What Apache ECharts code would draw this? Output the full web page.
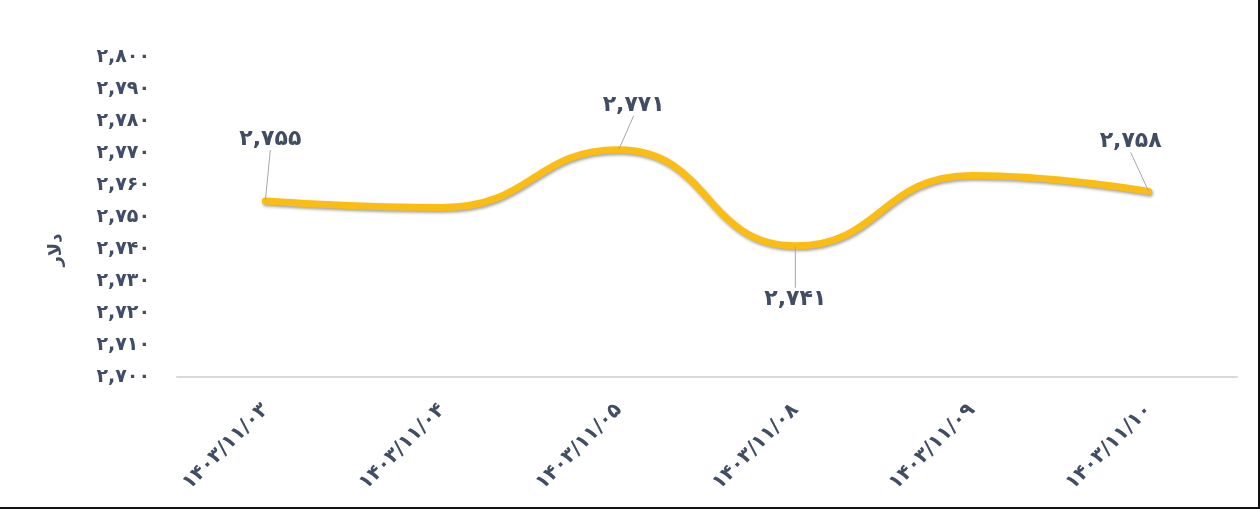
<!DOCTYPE html>
<html>
<head>
<meta charset="utf-8">
<script src="https://cdn.jsdelivr.net/npm/echarts@6/dist/echarts.min.js"></script>
<style>
  html, body { margin: 0; padding: 0; background: #fff; }
  .frame {
    width: 1260px;
    height: 509px;
    box-sizing: border-box;
    border-right: 2px solid #111;
    border-bottom: 2px solid #111;
  }
  #chart { width: 1258px; height: 507px; }
</style>
</head>
<body>
<div class="frame"><div id="chart"></div></div>
<script>
  // داده‌ها
  const categories = ['۱۴۰۳/۱۱/۰۳', '۱۴۰۳/۱۱/۰۴', '۱۴۰۳/۱۱/۰۵', '۱۴۰۳/۱۱/۰۸', '۱۴۰۳/۱۱/۰۹', '۱۴۰۳/۱۱/۱۰']
  const prices = [2755, 2753, 2771, 2741, 2763, 2758]
  const labelled = [0, 2, 3, 5]
  const yAxisName = 'دلار'

  // label offsets from point (dx, dy)
  const labelShift = {
    0: [5, -62],
    2: [15, -45],
    3: [0, 53],
    5: [-18, -50]
  }

  const textColor = '#404d62'
  const fontFamily = '"DejaVu Sans", "Noto Sans", sans-serif'

  function toFa(v) {
    const s = Number(v).toLocaleString('en-US')
    return s.replace(/[0-9]/g, d => '۰۱۲۳۴۵۶۷۸۹'[+d])
  }

  const chart = echarts.init(document.getElementById('chart'))

  chart.setOption({
    animation: false,
    grid: {
      left: 177,
      right: 21,
      top: 57,
      bottom: 130,
      containLabel: false,
      outerBoundsMode: 'none'
    },
    xAxis: {
      type: 'category',
      data: categories,
      axisLine: { lineStyle: { color: '#d9d9d9', width: 2 } },
      axisTick: { show: false },
      axisLabel: {
        interval: 0,
        rotate: 45,
        margin: 30,
        color: textColor,
        fontFamily: fontFamily,
        fontWeight: 'bold',
        fontSize: 20
      }
    },
    yAxis: {
      type: 'value',
      min: 2700,
      max: 2800,
      interval: 10,
      name: yAxisName,
      nameLocation: 'middle',
      nameGap: 112,
      nameRotate: 90,
      nameTextStyle: {
        color: textColor,
        fontFamily: fontFamily,
        fontWeight: 'bold',
        fontSize: 18,
        padding: [0, 66, 0, 0]
      },
      axisLine: { show: false },
      axisTick: { show: false },
      splitLine: { show: false },
      axisLabel: {
        margin: 27,
        color: textColor,
        fontFamily: fontFamily,
        fontWeight: 'bold',
        fontSize: 19,
        formatter: v => toFa(v)
      }
    },
    series: [{
      type: 'line',
      data: prices.map((v, i) => ({
        value: v,
        label: { show: labelled.includes(i) }
      })),
      smooth: 0.5,
      symbol: 'circle',
      symbolSize: 1,
      itemStyle: { color: '#fcbd12' },
      lineStyle: {
        color: '#fcbd12',
        width: 7,
        cap: 'round',
        shadowColor: 'rgba(0, 0, 0, 0.35)',
        shadowBlur: 3,
        shadowOffsetX: 1,
        shadowOffsetY: 2
      },
      label: {
        position: 'inside',
        color: textColor,
        fontFamily: fontFamily,
        fontWeight: 'bold',
        fontSize: 22,
        formatter: p => toFa(p.value)
      },
      labelLine: {
        show: true,
        lineStyle: { color: '#a6a6a6', width: 1 }
      },
      labelLayout: function (params) {
        const s = labelShift[params.dataIndex] || [0, 0]
        return { dx: s[0], dy: s[1] }
      },
      emphasis: { disabled: true }
    }]
  })
</script>
</body>
</html>
